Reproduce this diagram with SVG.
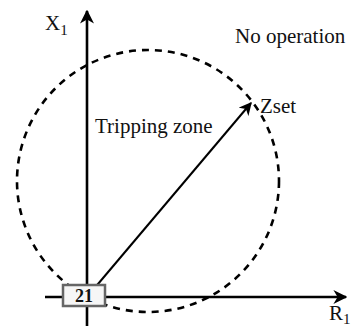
<svg xmlns="http://www.w3.org/2000/svg" width="353" height="329" viewBox="0 0 353 329">
<style>
text{font-family:"Liberation Serif","Times New Roman",serif;fill:#111;}
.lbl{font-size:21px;}
.sub{font-size:15px;}
.axis{stroke:#000;stroke-width:2.6;fill:none;}
.vec{stroke:#000;stroke-width:2;fill:none;}
.zone{stroke:#000;stroke-width:2.6;fill:none;stroke-dasharray:7 6;}
</style>
<defs>
<marker id="ah" viewBox="0 0 10 10" refX="9" refY="5" markerWidth="14" markerHeight="14" markerUnits="userSpaceOnUse" orient="auto">
<path d="M0,0 L10,5 L0,10 L3,5 Z" fill="#000"/>
</marker>
<marker id="ah2" viewBox="0 0 10 10" refX="9" refY="5" markerWidth="13" markerHeight="13" markerUnits="userSpaceOnUse" orient="auto">
<path d="M0,0 L10,5 L0,10 L3,5 Z" fill="#000"/>
</marker>
</defs>
<g id="zone">
<circle class="zone" cx="148" cy="181" r="131"/>
</g>
<g id="connectors">
<line class="axis" x1="87" y1="326" x2="87" y2="11" marker-end="url(#ah)"/>
<line class="axis" x1="45" y1="297" x2="346" y2="297" marker-end="url(#ah)"/>
<line class="vec" x1="87" y1="297" x2="251" y2="103" marker-end="url(#ah2)"/>
</g>
<g id="relay">
<rect x="63" y="285" width="42" height="21" fill="#f6f6f6" stroke="#666" stroke-width="2.5"/>
<text x="84" y="302" font-size="18" text-anchor="middle" font-weight="bold">21</text>
</g>
<g id="labels">
<text class="lbl" x="45" y="30">X<tspan class="sub" dy="5">1</tspan></text>
<text class="lbl" x="329" y="320">R<tspan class="sub" dy="4">1</tspan></text>
<text class="lbl" x="235" y="43">No operation</text>
<text class="lbl" x="95" y="133">Tripping zone</text>
<text class="lbl" x="260" y="113">Zset</text>
</g>
</svg>
